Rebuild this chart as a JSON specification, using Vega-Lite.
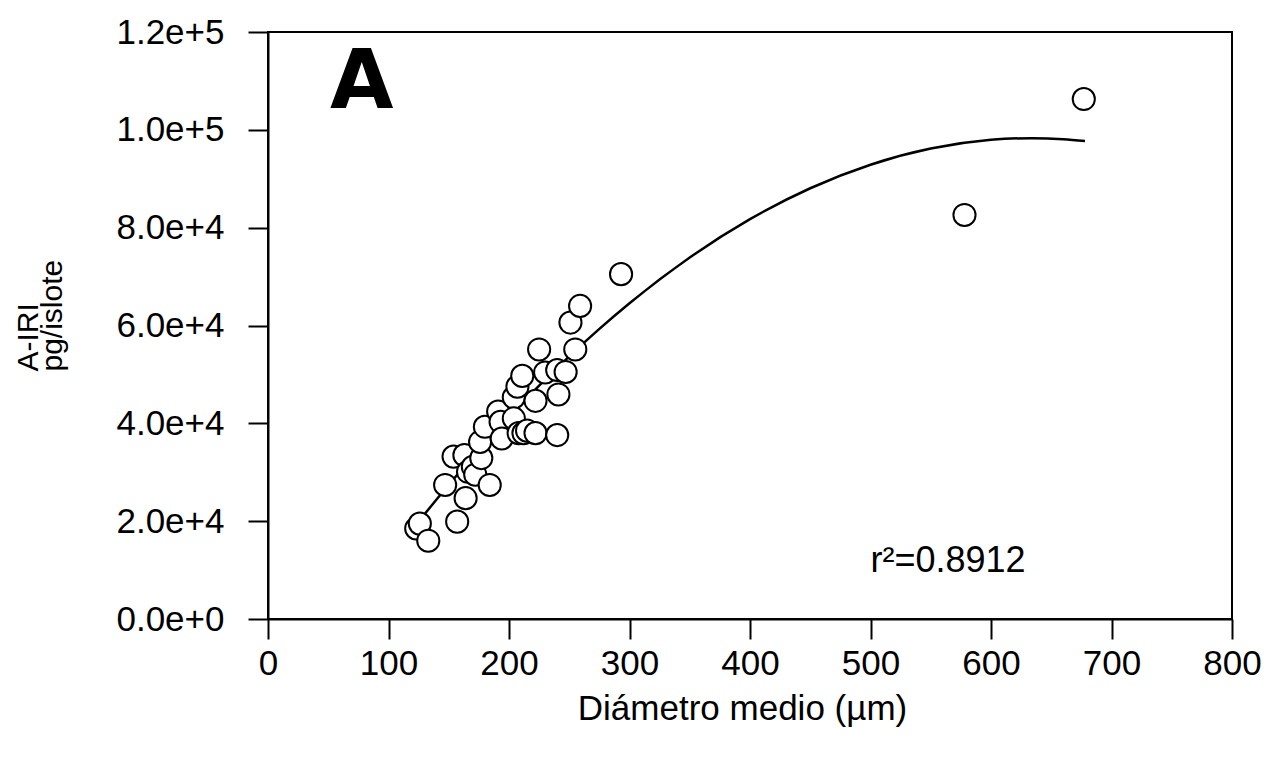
{
  "$schema": "https://vega.github.io/schema/vega-lite/v6.json",
  "width": 964,
  "height": 587,
  "autosize": "none",
  "padding": {"left": 268, "top": 32, "right": 36, "bottom": 144},
  "background": "white",
  "config": {
    "view": {"stroke": "black", "strokeWidth": 2},
    "axis": {
      "domainColor": "black", "domainWidth": 2,
      "tickColor": "black", "tickWidth": 2, "tickSize": 20,
      "grid": false, "labelFlush": false, "labelOverlap": false,
      "labelFont": "Liberation Sans", "labelFontSize": 35, "labelColor": "black",
      "titleColor": "black", "titleFontWeight": "normal"
    }
  },
  "datasets": {
    "pts": [
      {"diam": 123, "iri": 18500}, {"diam": 126, "iri": 19500}, {"diam": 133, "iri": 16000},
      {"diam": 147, "iri": 27400}, {"diam": 154, "iri": 33200}, {"diam": 157, "iri": 19900},
      {"diam": 163, "iri": 33500}, {"diam": 164, "iri": 24700}, {"diam": 166, "iri": 30100},
      {"diam": 170, "iri": 31100}, {"diam": 172, "iri": 29500}, {"diam": 177, "iri": 32900},
      {"diam": 176, "iri": 36200}, {"diam": 180, "iri": 39300}, {"diam": 184, "iri": 27400},
      {"diam": 191, "iri": 42400}, {"diam": 193, "iri": 40300}, {"diam": 194, "iri": 36900},
      {"diam": 204, "iri": 45300}, {"diam": 207, "iri": 47500}, {"diam": 204, "iri": 41000},
      {"diam": 208, "iri": 38000}, {"diam": 212, "iri": 38000}, {"diam": 211, "iri": 49700},
      {"diam": 215, "iri": 38500}, {"diam": 222, "iri": 38000}, {"diam": 222, "iri": 44600},
      {"diam": 225, "iri": 55100}, {"diam": 230, "iri": 50400}, {"diam": 240, "iri": 50900},
      {"diam": 240, "iri": 37600}, {"diam": 241, "iri": 45900}, {"diam": 247, "iri": 50500},
      {"diam": 251, "iri": 60600}, {"diam": 255, "iri": 55100}, {"diam": 259, "iri": 64000},
      {"diam": 293, "iri": 70500}, {"diam": 578, "iri": 82600}, {"diam": 677, "iri": 106300}
    ],
    "fit": [
      {"diam": 126, "iri": 20236}, {"diam": 150, "iri": 27438}, {"diam": 175, "iri": 34569},
      {"diam": 200, "iri": 41322}, {"diam": 225, "iri": 47698}, {"diam": 250, "iri": 53695},
      {"diam": 275, "iri": 59313}, {"diam": 300, "iri": 64554}, {"diam": 350, "iri": 73902},
      {"diam": 400, "iri": 81736}, {"diam": 450, "iri": 88059}, {"diam": 500, "iri": 92868},
      {"diam": 550, "iri": 96166}, {"diam": 600, "iri": 97950}, {"diam": 634, "iri": 98300},
      {"diam": 660, "iri": 98096}, {"diam": 678, "iri": 97714}
    ]
  },
  "layer": [
    {
      "data": {"name": "fit"},
      "mark": {"type": "line", "color": "black", "strokeWidth": 2.5, "interpolate": "monotone"},
      "encoding": {
        "x": {
          "field": "diam", "type": "quantitative",
          "scale": {"domain": [0, 800], "nice": false},
          "axis": {
            "values": [0, 100, 200, 300, 400, 500, 600, 700, 800],
            "labelPadding": 7,
            "title": "Diámetro medio (µm)",
            "titleFont": "Liberation Sans", "titleFontSize": 35,
            "titleBaseline": "alphabetic", "titleY": 100, "titleX": 474, "titleAlign": "center"
          }
        },
        "y": {
          "field": "iri", "type": "quantitative",
          "scale": {"domain": [0, 120000], "nice": false},
          "axis": {
            "values": [0, 20000, 40000, 60000, 80000, 100000, 120000],
            "format": ".1e",
            "labelPadding": 24,
            "title": ["A-IRI", "pg/islote"],
            "titleFont": "Liberation Sans", "titleFontSize": 30, "titleLineHeight": 24,
            "titleAngle": 270, "titleBaseline": "alphabetic", "titleAlign": "left",
            "titleX": -231, "titleY": 339
          }
        }
      }
    },
    {
      "data": {"name": "pts"},
      "mark": {"type": "point", "shape": "circle", "filled": false, "fill": "white", "fillOpacity": 1, "stroke": "black", "strokeWidth": 2, "size": 490, "opacity": 1},
      "encoding": {
        "x": {"field": "diam", "type": "quantitative"},
        "y": {"field": "iri", "type": "quantitative"}
      }
    },
    {
      "data": {"values": [{}]},
      "mark": {"type": "text", "font": "DejaVu Sans", "fontWeight": "bold", "fontSize": 82, "align": "left", "baseline": "alphabetic", "color": "black"},
      "encoding": {
        "x": {"datum": 51.5, "type": "quantitative"},
        "y": {"datum": 104450, "type": "quantitative"},
        "text": {"value": "A"}
      }
    },
    {
      "data": {"values": [{}]},
      "mark": {"type": "text", "font": "Liberation Sans", "fontSize": 36, "align": "left", "baseline": "alphabetic", "color": "black"},
      "encoding": {
        "x": {"datum": 500, "type": "quantitative"},
        "y": {"datum": 9600, "type": "quantitative"},
        "text": {"value": "r²=0.8912"}
      }
    }
  ]
}
